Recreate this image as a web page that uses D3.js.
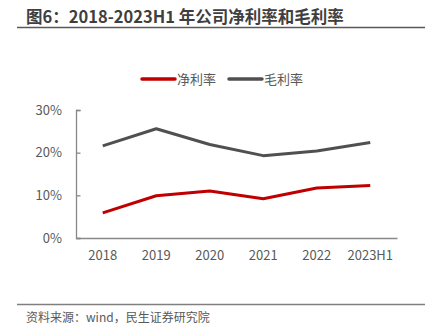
<!DOCTYPE html>
<html>
<head>
<meta charset="utf-8">
<script src="https://cdn.jsdelivr.net/npm/d3@7"></script>
<style>
  html, body { margin: 0; padding: 0; background: #fff; }
  svg { display: block; }
  text { font-family: "Noto Sans CJK SC", "Open Sans", sans-serif; }
</style>
</head>
<body>
<script>
// Years on the x axis
const years = ["2018", "2019", "2020", "2021", "2022", "2023H1"];
// Net margin (%) per year
const netMargin = [5.9, 9.9, 11.0, 9.2, 11.7, 12.3];
// Gross margin (%) per year
const grossMargin = [21.6, 25.6, 21.9, 19.3, 20.4, 22.4];
// Y axis ticks (%)
const yTicks = [0, 10, 20, 30];
const seriesNames = ["净利率", "毛利率"];
const seriesColors = ["#C00000", "#505050"];

const W = 427, H = 335;
const svg = d3.select("body").append("svg").attr("width", W).attr("height", H);

// Title and rules
svg.append("text").attr("x", 26).attr("y", 23)
  .attr("font-size", 16.5).attr("font-weight", "bold").attr("fill", "#3f3f3f")
  .text("图6：2018-2023H1 年公司净利率和毛利率");
svg.append("line").attr("x1", 17).attr("x2", 425).attr("y1", 27.5).attr("y2", 27.5)
  .attr("stroke", "#595959").attr("stroke-width", 1.3);
svg.append("line").attr("x1", 17).attr("x2", 425).attr("y1", 304.5).attr("y2", 304.5)
  .attr("stroke", "#7f7f7f").attr("stroke-width", 1.3);
svg.append("text").attr("x", 26).attr("y", 322)
  .attr("font-size", 12).attr("fill", "#595959")
  .text("资料来源：wind，民生证券研究院");

// Scales
const x = d3.scaleBand().domain(years).range([76, 397]);
const y = d3.scaleLinear().domain([0, 30]).range([238, 110]);

// Y axis
const yAxis = svg.append("g").attr("transform", "translate(76,0)")
  .call(d3.axisRight(y).tickValues(yTicks).tickSize(4.5).tickFormat(d => d + "%"));
yAxis.select(".domain").attr("stroke", "#888").attr("stroke-width", 1.3);
yAxis.selectAll(".tick line").attr("stroke", "#888").attr("stroke-width", 1.3);
yAxis.selectAll(".tick text").attr("x", -14).attr("text-anchor", "end")
  .attr("font-size", 13).attr("fill", "#595959")
  .attr("font-family", "'Open Sans', sans-serif");

// X axis
const xAxis = svg.append("g").attr("transform", "translate(0,238)")
  .call(d3.axisBottom(x).tickSize(0).tickSizeOuter(0));
xAxis.select(".domain").attr("stroke", "#888").attr("stroke-width", 1.3);
xAxis.selectAll(".tick text").attr("y", 13)
  .attr("font-size", 13).attr("fill", "#595959")
  .attr("font-family", "'Open Sans', sans-serif");

// Lines
const line = d3.line()
  .x((d, i) => x(years[i]) + x.bandwidth() / 2)
  .y(d => y(d));
[netMargin, grossMargin].forEach((s, k) => {
  svg.append("path").datum(s)
    .attr("d", line).attr("fill", "none")
    .attr("stroke", seriesColors[k]).attr("stroke-width", 3)
    .attr("stroke-linejoin", "round");
});

// Legend
const legendX = [142, 229];
seriesNames.forEach((name, k) => {
  const g = svg.append("g").attr("transform", `translate(${legendX[k]},79)`);
  g.append("line").attr("x1", 0).attr("x2", 33).attr("y1", 0).attr("y2", 0)
    .attr("stroke", seriesColors[k]).attr("stroke-width", 3.5).attr("stroke-linecap", "round");
  g.append("text").attr("x", 35).attr("y", 5)
    .attr("font-size", 13).attr("fill", "#595959").text(name);
});
</script>
</body>
</html>
